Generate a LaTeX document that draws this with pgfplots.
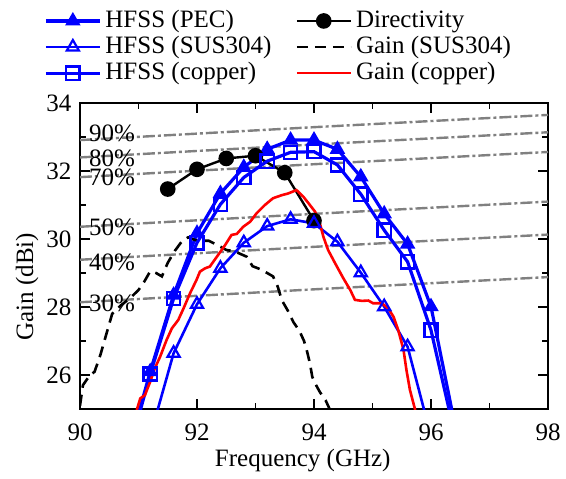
\documentclass[border=0pt]{standalone}
\usepackage{fontspec}
\setmainfont{Liberation Serif}
\usepackage{pgfplots}
\pgfplotsset{compat=1.18}
\begin{document}
\fontsize{12.5bp}{14.5bp}\selectfont
\begin{tikzpicture}
\useasboundingbox (-40bp,-35bp) rectangle (243bp,204.5bp);
\begin{axis}[
  scale only axis, width=234bp, height=153bp,
  xmin=90, xmax=98, ymin=25, ymax=34,
  xtick={90,92,...,98}, ytick={26,28,...,34},
  minor x tick num=1, minor y tick num=1,
  tick align=inside, major tick length=5bp, minor tick length=3bp,
  tick style={black, line width=0.9bp},
  axis line style={line width=1.3bp},
  /pgf/number format/assume math mode=true,
  xticklabel style={yshift=-3bp},
  xlabel={Frequency (GHz)}, ylabel={Gain (dBi)},
  xlabel style={at={(axis description cs:0.476,-0.17)}, anchor=center},
  ylabel style={at={(axis description cs:-0.113,0.40)}, anchor=center},
  legend columns=2,
  legend cell align=left,
  legend style={draw=none, fill=none, at={(-0.09,1.33)}, anchor=north west,
    /tikz/every even column/.append style={column sep=10bp},
    row sep=-1.5bp},
  legend image code/.code={\draw[mark repeat=2,mark phase=2,#1] plot coordinates {(0bp,0bp)(13.5bp,0bp)(27bp,0bp)};},
]
% efficiency reference lines
\pgfplotsset{eff/.style={gray, line width=1.2bp, dash pattern=on 6bp off 1.5bp on 1.5bp off 1.5bp, forget plot}}
\addplot[eff] coordinates {(90,32.91)(92,33.10)(94,33.29)(96,33.47)(98,33.65)};
\addplot[eff] coordinates {(90,32.40)(92,32.59)(94,32.78)(96,32.96)(98,33.14)};
\addplot[eff] coordinates {(90,31.82)(92,32.01)(94,32.20)(96,32.38)(98,32.56)};
\addplot[eff] coordinates {(90,30.36)(92,30.55)(94,30.74)(96,30.92)(98,31.10)};
\addplot[eff] coordinates {(90,29.39)(92,29.58)(94,29.77)(96,29.95)(98,30.13)};
\addplot[eff] coordinates {(90,28.14)(92,28.33)(94,28.52)(96,28.70)(98,28.88)};
\node[anchor=west, inner sep=0pt] at (axis cs:90.15,33.12) {90\%};
\node[anchor=west, inner sep=0pt] at (axis cs:90.15,32.38) {80\%};
\node[anchor=west, inner sep=0pt] at (axis cs:90.15,31.82) {70\%};
\node[anchor=west, inner sep=0pt] at (axis cs:90.15,30.35) {50\%};
\node[anchor=west, inner sep=0pt] at (axis cs:90.15,29.32) {40\%};
\node[anchor=west, inner sep=0pt] at (axis cs:90.15,28.12) {30\%};

% HFSS (PEC)
\addplot[blue, line width=1.6bp, mark=triangle*, mark size=3.5bp, mark options={solid, fill=blue, line width=1bp}] coordinates {
(90.8,23.6)(91.2,26.1)(91.6,28.35)(92.0,30.17)(92.4,31.34)(92.8,32.11)(93.2,32.64)(93.6,32.91)(94.0,32.91)(94.4,32.64)(94.8,31.83)(95.2,30.74)(95.6,29.85)(96.0,28.01)(96.4,24.6)};
\addlegendentry{HFSS (PEC)}
% Directivity
\addplot[black, line width=1.2bp, mark=*, mark size=3.3bp, mark options={solid, fill=black}] coordinates {
(91.5,31.47)(92.0,32.05)(92.5,32.37)(93.0,32.45)(93.5,31.95)(94.0,30.54)};
\addlegendentry{Directivity}
% HFSS (SUS304)
\addplot[blue, line width=1.3bp, mark=triangle, mark size=3.5bp, mark options={solid, fill=white, line width=1.1bp}] coordinates {
(91.2,24.2)(91.6,26.64)(92.0,28.08)(92.4,29.14)(92.8,29.89)(93.2,30.38)(93.6,30.58)(94.0,30.46)(94.4,29.92)(94.8,29.01)(95.2,28.01)(95.6,26.83)(96.0,24.2)};
\addlegendentry{HFSS (SUS304)}
% Gain (SUS304)
\addplot[black, line width=1.3bp, dash pattern=on 5.5bp off 3.5bp] coordinates {
(90.0,25.1)(90.05,25.7)(90.15,25.95)(90.25,26.1)(90.35,26.6)(90.45,27.2)(90.55,27.8)(90.7,28.05)(90.85,28.25)(91.0,28.5)(91.1,28.75)(91.2,29.05)(91.3,29.0)(91.4,28.9)(91.5,29.3)(91.62,29.65)(91.75,29.95)(91.85,30.05)(92.0,29.95)(92.2,29.95)(92.35,29.82)(92.5,29.68)(92.65,29.63)(92.85,29.48)(92.95,29.2)(93.1,29.1)(93.3,28.9)(93.38,28.6)(93.45,28.2)(93.55,27.9)(93.65,27.55)(93.75,27.3)(93.83,27.0)(93.88,26.7)(93.93,26.35)(93.97,25.95)(94.02,25.75)(94.1,25.5)(94.2,25.25)(94.28,24.95)};
\addlegendentry{Gain (SUS304)}
% HFSS (copper)
\addplot[blue, line width=1.6bp, mark=square, mark size=3.3bp, mark options={solid, fill=white, line width=1.2bp}] coordinates {
(90.8,23.5)(91.2,26.03)(91.6,28.25)(92.0,29.89)(92.4,31.02)(92.8,31.81)(93.2,32.29)(93.6,32.55)(94.0,32.57)(94.4,32.18)(94.8,31.32)(95.2,30.26)(95.6,29.33)(96.0,27.32)(96.4,24.3)};
\addlegendentry{HFSS (copper)}
% Gain (copper)
\addplot[red, line width=1.3bp] coordinates {
(90.97,24.97)(91.03,25.31)(91.11,25.41)(91.20,25.80)(91.28,26.20)(91.37,26.54)(91.48,27.03)(91.57,27.37)(91.68,27.62)(91.77,27.96)(91.88,28.40)(91.99,28.79)(92.05,29.04)(92.14,29.14)(92.22,29.19)(92.34,29.48)(92.48,29.82)(92.59,30.12)(92.68,30.15)(92.79,30.36)(92.91,30.51)(93.02,30.76)(93.16,31.00)(93.30,31.20)(93.45,31.29)(93.56,31.34)(93.70,31.44)(93.82,31.24)(93.93,31.00)(94.02,30.80)(94.10,30.46)(94.16,30.07)(94.24,29.68)(94.36,29.29)(94.50,28.85)(94.62,28.50)(94.70,28.21)(94.82,28.18)(94.93,28.19)(95.01,28.11)(95.16,28.11)(95.27,27.96)(95.36,27.71)(95.44,27.32)(95.53,26.74)(95.58,26.15)(95.64,25.56)(95.73,24.97)};
\addlegendentry{Gain (copper)}
\end{axis}
\end{tikzpicture}
\end{document}
